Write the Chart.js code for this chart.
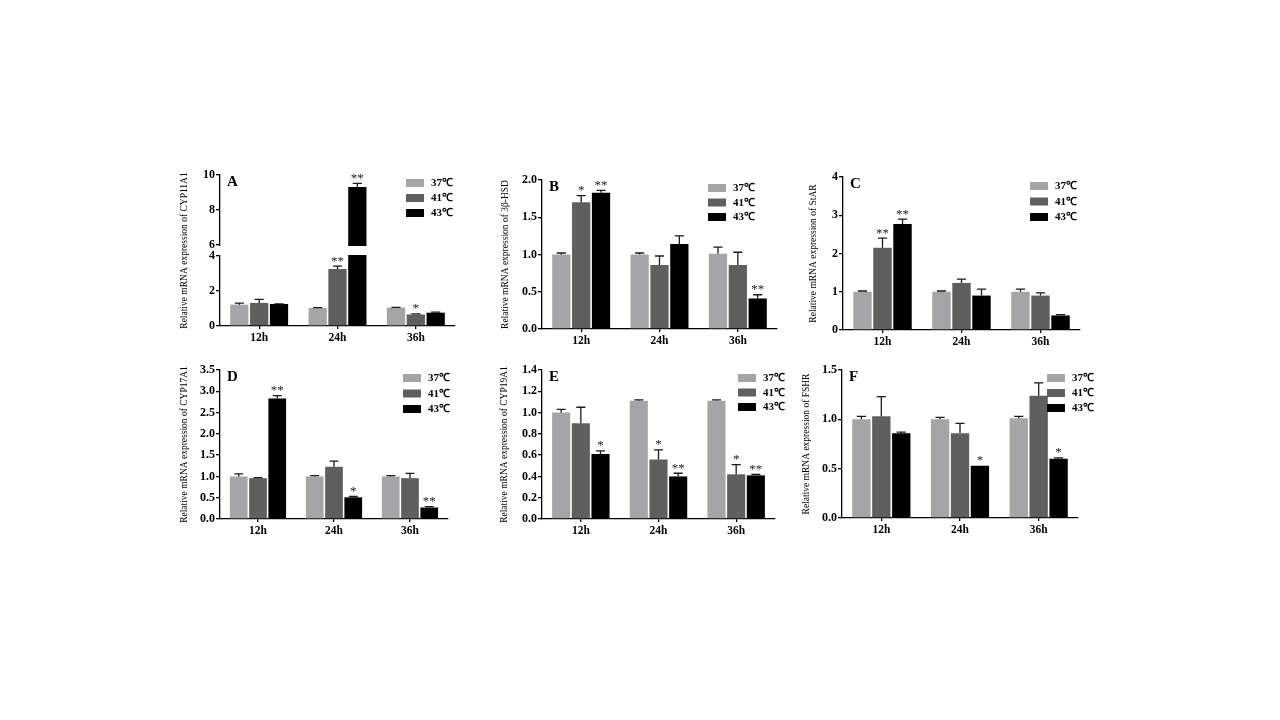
<!DOCTYPE html>
<html>
<head>
<meta charset="utf-8">
<script src="https://cdn.jsdelivr.net/npm/chart.js@4.4.1/dist/chart.umd.min.js"></script>
<style>
html, body { margin: 0; padding: 0; background: #fff; }
body { width: 1280px; height: 720px; position: relative; overflow: hidden; }
.painel { position: absolute; }
</style>
</head>
<body>
<script>
var horas = ['12h', '24h', '36h'];
var temps = ['37℃', '41℃', '43℃'];
var cores = ['#a5a5a8', '#5f5f5f', '#000000'];

// linhas = 37, 41, 43 graus; colunas = 12h, 24h, 36h
var cyp11a1Media = [[1.22, 1.03, 1.05], [1.32, 3.26, 0.66], [1.26, 9.32, 0.76]];
var cyp11a1Erro  = [[0.09, 0.02, 0.02], [0.20, 0.16, 0.03], [0.01, 0.20, 0.03]];
var cyp11a1Sig   = [['', '', ''], ['', '**', '*'], ['', '**', '']];

var hsdMedia = [[1.00, 1.00, 1.01], [1.70, 0.86, 0.86], [1.83, 1.14, 0.41]];
var hsdErro  = [[0.02, 0.02, 0.09], [0.09, 0.12, 0.17], [0.03, 0.11, 0.05]];
var hsdSig   = [['', '', ''], ['*', '', ''], ['**', '', '**']];

var starMedia = [[1.00, 1.00, 1.00], [2.15, 1.23, 0.90], [2.77, 0.90, 0.38]];
var starErro  = [[0.02, 0.02, 0.07], [0.25, 0.10, 0.07], [0.13, 0.17, 0.02]];
var starSig   = [['', '', ''], ['**', '', ''], ['**', '', '']];

var cyp17a1Media = [[1.00, 1.00, 1.00], [0.96, 1.23, 0.96], [2.83, 0.51, 0.27]];
var cyp17a1Erro  = [[0.06, 0.02, 0.02], [0.01, 0.13, 0.11], [0.07, 0.02, 0.02]];
var cyp17a1Sig   = [['', '', ''], ['', '', ''], ['**', '*', '**']];

var cyp19a1Media = [[1.00, 1.11, 1.11], [0.90, 0.56, 0.42], [0.61, 0.40, 0.41]];
var cyp19a1Erro  = [[0.03, 0.01, 0.01], [0.15, 0.09, 0.09], [0.03, 0.03, 0.01]];
var cyp19a1Sig   = [['', '', ''], ['', '*', '*'], ['*', '**', '**']];

var fshrMedia = [[1.00, 1.00, 1.01], [1.03, 0.86, 1.24], [0.86, 0.53, 0.60]];
var fshrErro  = [[0.03, 0.02, 0.02], [0.20, 0.10, 0.13], [0.01, 0.00, 0.01]];
var fshrSig   = [['', '', ''], ['', '', ''], ['', '*', '*']];

var Y_W = 46, PAD_T = 10, PAD_R = 36, X_H = 24;
var SERIF = '"Liberation Serif", "Times New Roman", serif';

var paineis = [
    { letra: 'A', media: cyp11a1Media, erro: cyp11a1Erro, sig: cyp11a1Sig,
      titulo: 'Relative mRNA expression of CYP11A1',
      x: 220, top: 175, bottom: 326, right: 455, max: 10, passo: 2, dec: 0, quebra: [4, 6],
      tOff: 36, legX: 186, legY: 8, legPasso: 15 },
    { letra: 'B', media: hsdMedia, erro: hsdErro, sig: hsdSig,
      titulo: 'Relative mRNA expression of 3β-HSD',
      x: 542, top: 180, bottom: 329, right: 777, max: 2, passo: 0.5, dec: 1,
      tOff: 37, legX: 166, legY: 8, legPasso: 14.5 },
    { letra: 'C', media: starMedia, erro: starErro, sig: starSig,
      titulo: 'Relative mRNA expression of StAR',
      x: 843, top: 177, bottom: 330, right: 1080, max: 4, passo: 1, dec: 0,
      tOff: 30, legX: 187, legY: 9, legPasso: 15.5 },
    { letra: 'D', media: cyp17a1Media, erro: cyp17a1Erro, sig: cyp17a1Sig,
      titulo: 'Relative mRNA expression of CYP17A1',
      x: 220, top: 370, bottom: 519, right: 448, max: 3.5, passo: 0.5, dec: 1,
      tOff: 36, legX: 183, legY: 8, legPasso: 15.5 },
    { letra: 'E', media: cyp19a1Media, erro: cyp19a1Erro, sig: cyp19a1Sig,
      titulo: 'Relative mRNA expression of CYP19A1',
      x: 542, top: 370, bottom: 519, right: 775, max: 1.4, passo: 0.2, dec: 1,
      tOff: 38, legX: 196, legY: 8, legPasso: 14.5 },
    { letra: 'F', media: fshrMedia, erro: fshrErro, sig: fshrSig,
      titulo: 'Relative mRNA expression of FSHR',
      x: 842, top: 370, bottom: 518, right: 1078, max: 1.5, passo: 0.5, dec: 1,
      tOff: 36, legX: 205, legY: 8, legPasso: 15 }
];

// escala linear com eixo quebrado (painel A)
class EscalaQuebrada extends Chart.LinearScale {
    getPixelForValue(v) {
        if (v === null || v === undefined || isNaN(v)) return NaN;
        var o = this.options;
        var h = (this.bottom - this.top - o.gapPx) / 2;
        if (v <= o.breakLow) return this.bottom - (v - this.min) / (o.breakLow - this.min) * h;
        if (v >= o.breakHigh) return this.top + (this.max - v) / (this.max - o.breakHigh) * h;
        return this.bottom - h - (v - o.breakLow) / (o.breakHigh - o.breakLow) * o.gapPx;
    }
}
EscalaQuebrada.id = 'quebrada';
EscalaQuebrada.defaults = Chart.LinearScale.defaults;
Chart.register(EscalaQuebrada);

var deco = {
    id: 'deco',
    afterDatasetsDraw: function(chart, args, op) {
        var ctx = chart.ctx, area = chart.chartArea, ys = chart.scales.y;
        ctx.save();

        if (op.quebra) {
            var yHi = ys.getPixelForValue(op.quebra[1]);
            var yLo = ys.getPixelForValue(op.quebra[0]);
            ctx.fillStyle = '#fff';
            ctx.fillRect(area.left - 3, yHi + 1, area.right - area.left + 6, yLo - yHi - 2);
        }

        for (var i = 0; i < op.media.length; i++) {
            var meta = chart.getDatasetMeta(i);
            for (var j = 0; j < meta.data.length; j++) {
                var bar = meta.data[j];
                var topo = ys.getPixelForValue(op.media[i][j] + op.erro[i][j]);
                if (op.erro[i][j] > 0) {
                    ctx.strokeStyle = '#1a1a1a';
                    ctx.lineWidth = 1.3;
                    ctx.beginPath();
                    ctx.moveTo(bar.x, bar.y);
                    ctx.lineTo(bar.x, topo);
                    ctx.moveTo(bar.x - bar.width / 4, topo);
                    ctx.lineTo(bar.x + bar.width / 4, topo);
                    ctx.stroke();
                }
                if (op.sig[i][j]) {
                    ctx.fillStyle = '#222';
                    ctx.font = '13px ' + SERIF;
                    ctx.textAlign = 'center';
                    ctx.textBaseline = 'alphabetic';
                    ctx.fillText(op.sig[i][j], bar.x, topo - 1.5);
                }
            }
        }

        // letra do painel
        ctx.fillStyle = '#000';
        ctx.font = 'bold 15px ' + SERIF;
        ctx.textAlign = 'left';
        ctx.textBaseline = 'middle';
        ctx.fillText(op.letra, area.left + 7, area.top + 7);

        // legenda
        ctx.font = 'bold 11px ' + SERIF;
        for (var k = 0; k < temps.length; k++) {
            var by = area.top + op.legY + k * op.legPasso;
            var bx = area.left + op.legX;
            ctx.fillStyle = cores[k];
            ctx.fillRect(bx, by - 4, 18, 8);
            ctx.fillStyle = '#000';
            ctx.fillText(temps[k], bx + 25, by + 0.5);
        }
        ctx.restore();
    }
};

function criarPainel(p) {
    var div = document.createElement('div');
    div.className = 'painel';
    div.style.left = (p.x - Y_W) + 'px';
    div.style.top = (p.top - PAD_T) + 'px';
    div.style.width = (p.right - p.x + Y_W + PAD_R) + 'px';
    div.style.height = (p.bottom - p.top + PAD_T + X_H) + 'px';
    var cv = document.createElement('canvas');
    div.appendChild(cv);
    document.body.appendChild(div);

    var datasets = [];
    for (var i = 0; i < temps.length; i++) {
        datasets.push({
            label: temps[i], data: p.media[i],
            backgroundColor: cores[i], borderWidth: 0,
            categoryPercentage: 0.76, barPercentage: 0.92
        });
    }

    var escalaY = {
        type: p.quebra ? 'quebrada' : 'linear',
        min: 0, max: p.max,
        border: { display: true, color: '#000', width: 1.3 },
        grid: { display: true, drawOnChartArea: false, drawTicks: true, tickLength: 4, color: '#000', lineWidth: 1.3 },
        ticks: {
            stepSize: p.passo, color: '#000', padding: 1,
            font: { family: SERIF, size: 12, weight: 'bold' },
            callback: function(v) { return Number(v).toFixed(p.dec); }
        },
        title: {
            display: true, text: p.titulo, color: '#000',
            font: { family: SERIF, size: 9.5 },
            padding: { top: Y_W - p.tOff - 5.7, bottom: 0 }
        },
        afterFit: function(s) { s.width = Y_W; }
    };
    if (p.quebra) {
        escalaY.breakLow = p.quebra[0];
        escalaY.breakHigh = p.quebra[1];
        escalaY.gapPx = 11;
    }

    new Chart(cv, {
        type: 'bar',
        data: { labels: horas, datasets: datasets },
        options: {
            responsive: true, maintainAspectRatio: false, animation: false,
            layout: { padding: { top: PAD_T, right: PAD_R, left: 0, bottom: 0 } },
            plugins: {
                legend: { display: false },
                tooltip: { enabled: false },
                deco: {
                    letra: p.letra, media: p.media, erro: p.erro, sig: p.sig, quebra: p.quebra,
                    legX: p.legX, legY: p.legY, legPasso: p.legPasso
                }
            },
            scales: {
                x: {
                    border: { display: true, color: '#000', width: 1.3 },
                    grid: { display: true, drawOnChartArea: false, offset: false, tickLength: 3, color: '#000', lineWidth: 1.3 },
                    ticks: { color: '#000', padding: 2, font: { family: SERIF, size: 11.5, weight: 'bold' } },
                    afterFit: function(s) { s.height = X_H; }
                },
                y: escalaY
            }
        },
        plugins: [deco]
    });
}

for (var n = 0; n < paineis.length; n++) criarPainel(paineis[n]);
</script>
</body>
</html>
